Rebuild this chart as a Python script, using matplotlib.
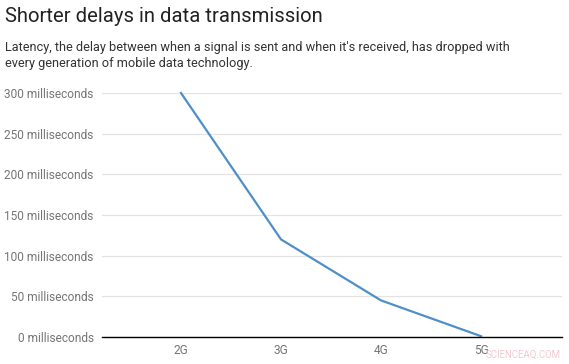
import matplotlib.pyplot as plt

categories = ["2G", "3G", "4G", "5G"]
latency_ms = [300, 120, 45, 1]
yticks = [0, 50, 100, 150, 200, 250, 300]
ytick_labels = [f"{v} milliseconds" for v in yticks]

plt.rcParams['font.family'] = ['Roboto', 'DejaVu Sans']

fig = plt.figure(figsize=(5.69, 3.64), dpi=100)
ax = fig.add_axes([102 / 569, 1 - 337 / 364, 460 / 569, 244 / 364])

x = list(range(len(categories)))
ax.plot(x, latency_ms, color='#4f8fc8', lw=1.6, clip_on=False, zorder=3)

ax.set_xlim(-0.79, 3.81)
ax.set_ylim(0, 300)
ax.set_yticks(yticks)
ax.set_yticklabels(ytick_labels)
ax.set_xticks(x)
ax.set_xticklabels(categories)
ax.tick_params(axis='both', length=0, labelsize=8.6, labelcolor='#757575')
ax.tick_params(axis='y', pad=6)
ax.tick_params(axis='x', pad=5)

ax.grid(axis='y', color='#e3e3e3', lw=0.9)
ax.set_axisbelow(True)
for s in ['top', 'right', 'left']:
    ax.spines[s].set_visible(False)
ax.spines['bottom'].set_color('black')
ax.spines['bottom'].set_linewidth(1.0)
ax.spines['bottom'].set_zorder(4)

fig.text(5 / 569, 1 - 17 / 364, "Shorter delays in data transmission",
         fontsize=14.6, color='#222222', va='center', ha='left')
fig.text(5 / 569, 1 - 48 / 364,
         "Latency, the delay between when a signal is sent and when it's received, has dropped with",
         fontsize=9.2, color='#333333', va='center', ha='left')
fig.text(5 / 569, 1 - 64 / 364, "every generation of mobile data technology.",
         fontsize=9.2, color='#333333', va='center', ha='left')
# watermark, kept clear of the 5G label and the right edge
fig.text(561 / 569, 1 - 355 / 364, "SCIENCEAQ.COM", fontsize=6.9,
         color='#f3c9cf', va='center', ha='right')

fig.savefig("out.png", dpi=100)
